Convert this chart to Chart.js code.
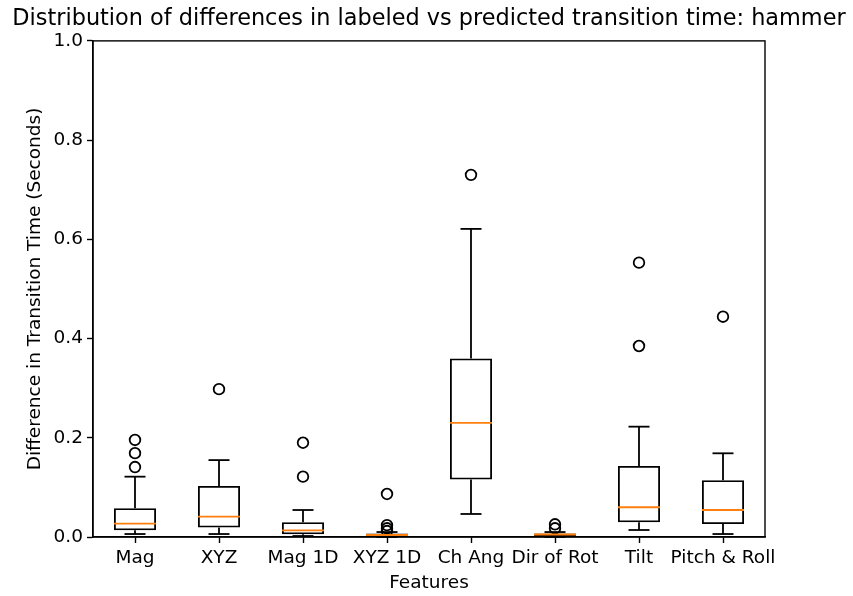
<!DOCTYPE html>
<html><head><meta charset="utf-8">
<script src="https://cdn.jsdelivr.net/npm/chart.js@4/dist/chart.umd.min.js"></script>
<style>html,body{margin:0;padding:0;background:#fff}</style>
</head><body>
<canvas id="c" width="853" height="596"></canvas>
<script>
const categories = ['Mag', 'XYZ', 'Mag 1D', 'XYZ 1D', 'Ch Ang', 'Dir of Rot', 'Tilt', 'Pitch & Roll'];
const q1 =          [0.0135, 0.019, 0.0055, 0.002, 0.116, 0.002, 0.0296, 0.0262];
const medians =     [0.027,  0.041, 0.0135, 0.004, 0.230, 0.005, 0.060,  0.0544];
const q3 =          [0.058,  0.103, 0.0296, 0.007, 0.360, 0.007, 0.143,  0.1143];
const whiskerLow =  [0.006,  0.006, 0.002,  0.000, 0.0464, 0.000, 0.0141, 0.006];
const whiskerHigh = [0.1216, 0.155, 0.0544, 0.010, 0.621, 0.010, 0.2224, 0.1687];
const outliers = [
  [0.1956, 0.169, 0.141],
  [0.298],
  [0.190, 0.1216],
  [0.0867, 0.024, 0.0175, 0.012],
  [0.730],
  [0.0256, 0.0175],
  [0.553, 0.385],
  [0.444]
];
const yTickValues = [0, 0.2, 0.4, 0.6, 0.8, 1.0];

const boxParts = {
  id: 'boxParts',
  afterDatasetsDraw(chart) {
    const {ctx, chartArea} = chart;
    const y = chart.scales.y;
    const meta = chart.getDatasetMeta(0);
    const line = (x1, y1, x2, y2) => { ctx.beginPath(); ctx.moveTo(x1, y1); ctx.lineTo(x2, y2); ctx.stroke(); };
    ctx.save();
    meta.data.forEach((bar, i) => {
      const cx = bar.x;
      const w = bar.width;
      const pLo = y.getPixelForValue(whiskerLow[i]);
      const pHi = y.getPixelForValue(whiskerHigh[i]);
      const pQ1 = y.getPixelForValue(q1[i]);
      const pQ3 = y.getPixelForValue(q3[i]);
      const pMed = y.getPixelForValue(medians[i]);
      ctx.strokeStyle = '#000';
      ctx.lineWidth = 1.8;
      line(cx, pQ3, cx, pHi);
      line(cx, pQ1, cx, pLo);
      line(cx - w / 4, pHi, cx + w / 4, pHi);
      line(cx - w / 4, pLo, cx + w / 4, pLo);
      ctx.strokeStyle = '#ff7f0e';
      ctx.lineWidth = 1.8;
      line(cx - w / 2, pMed, cx + w / 2, pMed);
    });
    ctx.strokeStyle = '#000';
    ctx.lineWidth = 1.4;
    ctx.strokeRect(chartArea.left, chartArea.top, chartArea.width, chartArea.height);
    ctx.restore();
  }
};

const outlierPoints = outliers.flatMap((arr, i) => arr.map(v => ({x: categories[i], y: v})));

Chart.defaults.font.family = '"DejaVu Sans", sans-serif';
Chart.defaults.color = '#000';

new Chart(document.getElementById('c'), {
  type: 'bar',
  data: {
    labels: categories,
    datasets: [
      {
        type: 'bar',
        data: categories.map((c, i) => [q1[i], q3[i]]),
        backgroundColor: 'rgba(0,0,0,0)',
        borderColor: '#000',
        borderWidth: 1.8,
        borderSkipped: false,
        barPercentage: 0.5,
        categoryPercentage: 1.0,
        xAxisID: 'x', yAxisID: 'y'
      },
      {
        type: 'scatter',
        data: outlierPoints,
        pointRadius: 5.3,
        pointBorderWidth: 1.8,
        pointBackgroundColor: 'rgba(0,0,0,0)',
        pointBorderColor: '#000',
        showLine: false,
        xAxisID: 'x', yAxisID: 'y'
      }
    ]
  },
  options: {
    responsive: false,
    animation: false,
    events: [],
    layout: {padding: {left: 5, right: 0, top: 0, bottom: 0}},
    plugins: {
      legend: {display: false},
      tooltip: {enabled: false},
      title: {
        display: true,
        text: 'Distribution of differences in labeled vs predicted transition time: hammer',
        color: '#000',
        font: {size: 22.4, weight: 'normal'},
        padding: {top: 6, bottom: 8}
      }
    },
    scales: {
      x: {
        type: 'category',
        offset: true,
        grid: {display: true, drawOnChartArea: false, drawTicks: true, tickLength: 6, tickColor: '#000', tickWidth: 1.4, offset: false},
        border: {display: true, color: '#000', width: 1.4},
        ticks: {color: '#000', font: {size: 18.5}, padding: 4, maxRotation: 0, autoSkip: false},
        title: {display: true, text: 'Features', color: '#000', font: {size: 18.5}, padding: {top: 0, bottom: 2}},
        afterFit(s) { s.height = 59; }
      },
      y: {
        type: 'linear',
        position: 'left',
        min: 0, max: 1,
        afterBuildTicks(s) { s.ticks = yTickValues.map(v => ({value: v})); },
        grid: {display: true, drawOnChartArea: false, drawTicks: true, tickLength: 6, tickColor: '#000', tickWidth: 1.4},
        border: {display: true, color: '#000', width: 1.4},
        ticks: {color: '#000', font: {size: 18.5}, padding: 4, callback: v => Number(v).toFixed(1)},
        title: {display: true, text: 'Difference in Transition Time (Seconds)', color: '#000', font: {size: 18.5}, padding: {top: 19, bottom: 0}},
        afterFit(s) { s.width = 88; }
      },
      yRight: {
        type: 'linear',
        position: 'right',
        min: 0, max: 1,
        grid: {display: false},
        border: {display: false},
        ticks: {display: false},
        afterFit(s) { s.width = 88; }
      }
    }
  },
  plugins: [boxParts]
});
</script>
</body></html>
